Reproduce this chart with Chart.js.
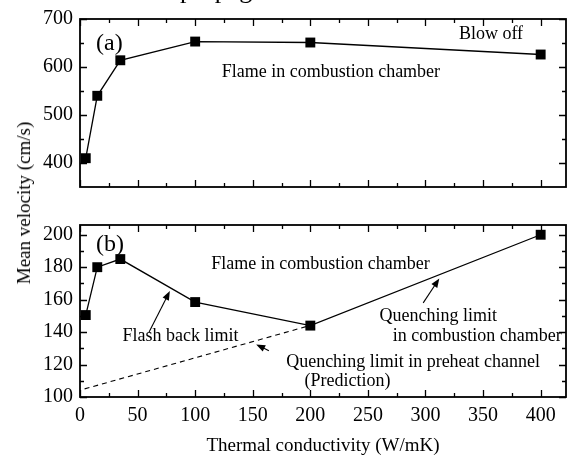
<!DOCTYPE html>
<html>
<head>
<meta charset="utf-8">
<script src="https://cdn.jsdelivr.net/npm/chart.js@4.4.1/dist/chart.umd.min.js"></script>
<style>
  html, body { margin: 0; padding: 0; background: #fff; }
  body { width: 573px; height: 457px; position: relative; overflow: hidden; font-family: "Liberation Serif", "Times New Roman", serif; }
  .box { position: absolute; left: 0; width: 573px; }
  #topBox { top: 0; height: 206px; }
  #botBox { top: 206px; height: 251px; }
  #yTitle { position: absolute; left: 24px; top: 203px; transform: translate(-50%, -50%) rotate(-90deg); white-space: nowrap; font-size: 19px; color: #000; }
</style>
</head>
<body>
<div class="box" id="topBox"><canvas id="topChart" width="573" height="206" style="width:573px;height:206px"></canvas></div>
<div class="box" id="botBox"><canvas id="botChart" width="573" height="251" style="width:573px;height:251px"></canvas></div>
<div id="yTitle">Mean velocity (cm/s)</div>
<script>
// data
const conductivity = [5, 15, 35, 100, 200, 400];
const blowOffVelocity = [410, 540, 614, 653, 651, 626];
const limitVelocity = [150.5, 180, 185, 158.5, 144, 200];
const predictionK = [4, 197];
const predictionVelocity = [105, 143.5];

const xTicks = [0, 50, 100, 150, 200, 250, 300, 350, 400];
const topTicks = [400, 500, 600, 700];
const bottomTicks = [100, 120, 140, 160, 180, 200];

const FONT = '"Liberation Serif", "Times New Roman", serif';

function pts(xs, ys) {
  return xs.map((x, i) => ({ x: x, y: ys[i] }));
}

// box around the plot + inward ticks on all four sides
const framePlugin = {
  id: 'frame',
  afterDatasetsDraw(chart, args, opts) {
    const ctx = chart.ctx, a = chart.chartArea;
    const xs = chart.scales.x, ys = chart.scales.y;
    ctx.save();
    ctx.strokeStyle = '#000';
    ctx.lineWidth = 1.3;
    ctx.beginPath();
    const xt = (v, len) => {
      const p = Math.round(xs.getPixelForValue(v)) + 0.5;
      ctx.moveTo(p, a.bottom); ctx.lineTo(p, a.bottom - len);
      ctx.moveTo(p, a.top); ctx.lineTo(p, a.top + len);
    };
    const yt = (v, len) => {
      const p = Math.round(ys.getPixelForValue(v)) + 0.5;
      ctx.moveTo(a.left, p); ctx.lineTo(a.left + len, p);
      ctx.moveTo(a.right, p); ctx.lineTo(a.right - len, p);
    };
    xTicks.forEach(v => xt(v, 7));
    for (let v = 25; v < xs.max; v += 50) xt(v, 4);
    opts.yTicks.forEach(v => yt(v, 7));
    const step = opts.yTicks[1] - opts.yTicks[0];
    for (let v = opts.yTicks[0] - step / 2; v < ys.max; v += step) {
      if (v > ys.min) yt(v, 4);
    }
    ctx.stroke();
    ctx.lineWidth = 1.8;
    ctx.strokeRect(a.left, a.top, a.right - a.left, a.bottom - a.top);
    ctx.restore();
  }
};

// text labels and arrows placed in data coordinates
const notesPlugin = {
  id: 'notes',
  afterDatasetsDraw(chart, args, opts) {
    const ctx = chart.ctx;
    const xs = chart.scales.x, ys = chart.scales.y;
    ctx.save();
    ctx.fillStyle = '#000';
    ctx.strokeStyle = '#000';
    ctx.textAlign = 'left';
    ctx.textBaseline = 'middle';
    (opts.texts || []).forEach(t => {
      ctx.font = (t.size || 18) + 'px ' + FONT;
      ctx.fillText(t.text, xs.getPixelForValue(t.x), ys.getPixelForValue(t.y));
    });
    (opts.arrows || []).forEach(ar => {
      const x1 = xs.getPixelForValue(ar.from[0]), y1 = ys.getPixelForValue(ar.from[1]);
      const x2 = xs.getPixelForValue(ar.to[0]), y2 = ys.getPixelForValue(ar.to[1]);
      const ang = Math.atan2(y2 - y1, x2 - x1);
      ctx.lineWidth = 1.1;
      ctx.beginPath();
      ctx.moveTo(x1, y1);
      ctx.lineTo(x2 - 6 * Math.cos(ang), y2 - 6 * Math.sin(ang));
      ctx.stroke();
      ctx.beginPath();
      ctx.moveTo(x2, y2);
      ctx.lineTo(x2 - 9 * Math.cos(ang) + 3.5 * Math.sin(ang), y2 - 9 * Math.sin(ang) - 3.5 * Math.cos(ang));
      ctx.lineTo(x2 - 9 * Math.cos(ang) - 3.5 * Math.sin(ang), y2 - 9 * Math.sin(ang) + 3.5 * Math.cos(ang));
      ctx.closePath();
      ctx.fill();
    });
    if (opts.caption) {
      // bottom of a caption line cut off at the top of the page
      ctx.font = '26px ' + FONT;
      ctx.textBaseline = 'alphabetic';
      ctx.fillText(opts.caption.text, opts.caption.px, opts.caption.py);
    }
    ctx.restore();
  }
};

const lineStyle = {
  showLine: true,
  borderColor: '#000',
  backgroundColor: '#000',
  borderWidth: 1.3,
  pointStyle: 'rect',
  pointRadius: 7,
  pointBorderWidth: 0,
  tension: 0
};

const yTickOpts = { font: { family: FONT, size: 20 }, color: '#000', padding: 7 };

new Chart(document.getElementById('topChart'), {
  type: 'scatter',
  data: {
    datasets: [Object.assign({ label: 'Blow off', data: pts(conductivity, blowOffVelocity) }, lineStyle)]
  },
  options: {
    responsive: false,
    animation: false,
    events: [],
    layout: { padding: { top: 18, right: 6, bottom: 7, left: 0 } },
    plugins: {
      legend: { display: false },
      tooltip: { enabled: false },
      frame: { yTicks: topTicks },
      notes: {
        texts: [
          { text: '(a)', x: 14, y: 648, size: 24 },
          { text: 'Flame in combustion chamber', x: 123, y: 590 },
          { text: 'Blow off', x: 329, y: 668 }
        ],
        caption: { text: 'propagation', px: 180, py: -2 }
      }
    },
    scales: {
      x: { type: 'linear', display: false, min: 0, max: 422 },
      y: {
        type: 'linear', min: 350, max: 700,
        grid: { display: false, drawTicks: false },
        border: { display: false },
        ticks: yTickOpts,
        afterBuildTicks: s => { s.ticks = topTicks.map(v => ({ value: v })); },
        afterFit: s => { s.width = 80; }
      }
    }
  },
  plugins: [framePlugin, notesPlugin]
});

new Chart(document.getElementById('botChart'), {
  type: 'scatter',
  data: {
    datasets: [
      {
        label: 'Quenching limit in preheat channel (Prediction)',
        data: pts(predictionK, predictionVelocity),
        showLine: true,
        borderColor: '#000',
        borderWidth: 1.1,
        borderDash: [5, 4],
        pointRadius: 0
      },
      Object.assign({ label: 'Flash back / quenching limit', data: pts(conductivity, limitVelocity) }, lineStyle)
    ]
  },
  options: {
    responsive: false,
    animation: false,
    events: [],
    layout: { padding: { top: 11, right: 6, bottom: 0, left: 0 } },
    plugins: {
      legend: { display: false },
      tooltip: { enabled: false },
      frame: { yTicks: bottomTicks },
      notes: {
        texts: [
          { text: '(b)', x: 14, y: 194, size: 24 },
          { text: 'Flame in combustion chamber', x: 114, y: 181.5 },
          { text: 'Flash back limit', x: 37, y: 137.5 },
          { text: 'Quenching limit', x: 260, y: 150 },
          { text: 'in combustion chamber', x: 271.5, y: 137.4 },
          { text: 'Quenching limit in preheat channel', x: 179, y: 121.6 },
          { text: '(Prediction)', x: 195, y: 109.8 }
        ],
        arrows: [
          { from: [60, 140], to: [78, 165.3] },
          { from: [298, 158], to: [312, 173] },
          { from: [164, 128.5], to: [153, 132.4] }
        ]
      }
    },
    scales: {
      x: {
        type: 'linear', min: 0, max: 422,
        grid: { display: false, drawTicks: false },
        border: { display: false },
        ticks: { font: { family: FONT, size: 20 }, color: '#000', padding: 7, maxRotation: 0 },
        afterBuildTicks: s => { s.ticks = xTicks.map(v => ({ value: v })); },
        title: { display: true, text: 'Thermal conductivity (W/mK)', font: { family: FONT, size: 19 }, color: '#000', padding: 0 },
        afterFit: s => { s.height = 60; }
      },
      y: {
        type: 'linear', min: 100, max: 206,
        grid: { display: false, drawTicks: false },
        border: { display: false },
        ticks: yTickOpts,
        afterBuildTicks: s => { s.ticks = bottomTicks.map(v => ({ value: v })); },
        afterFit: s => { s.width = 80; }
      }
    }
  },
  plugins: [framePlugin, notesPlugin]
});
</script>
</body>
</html>
